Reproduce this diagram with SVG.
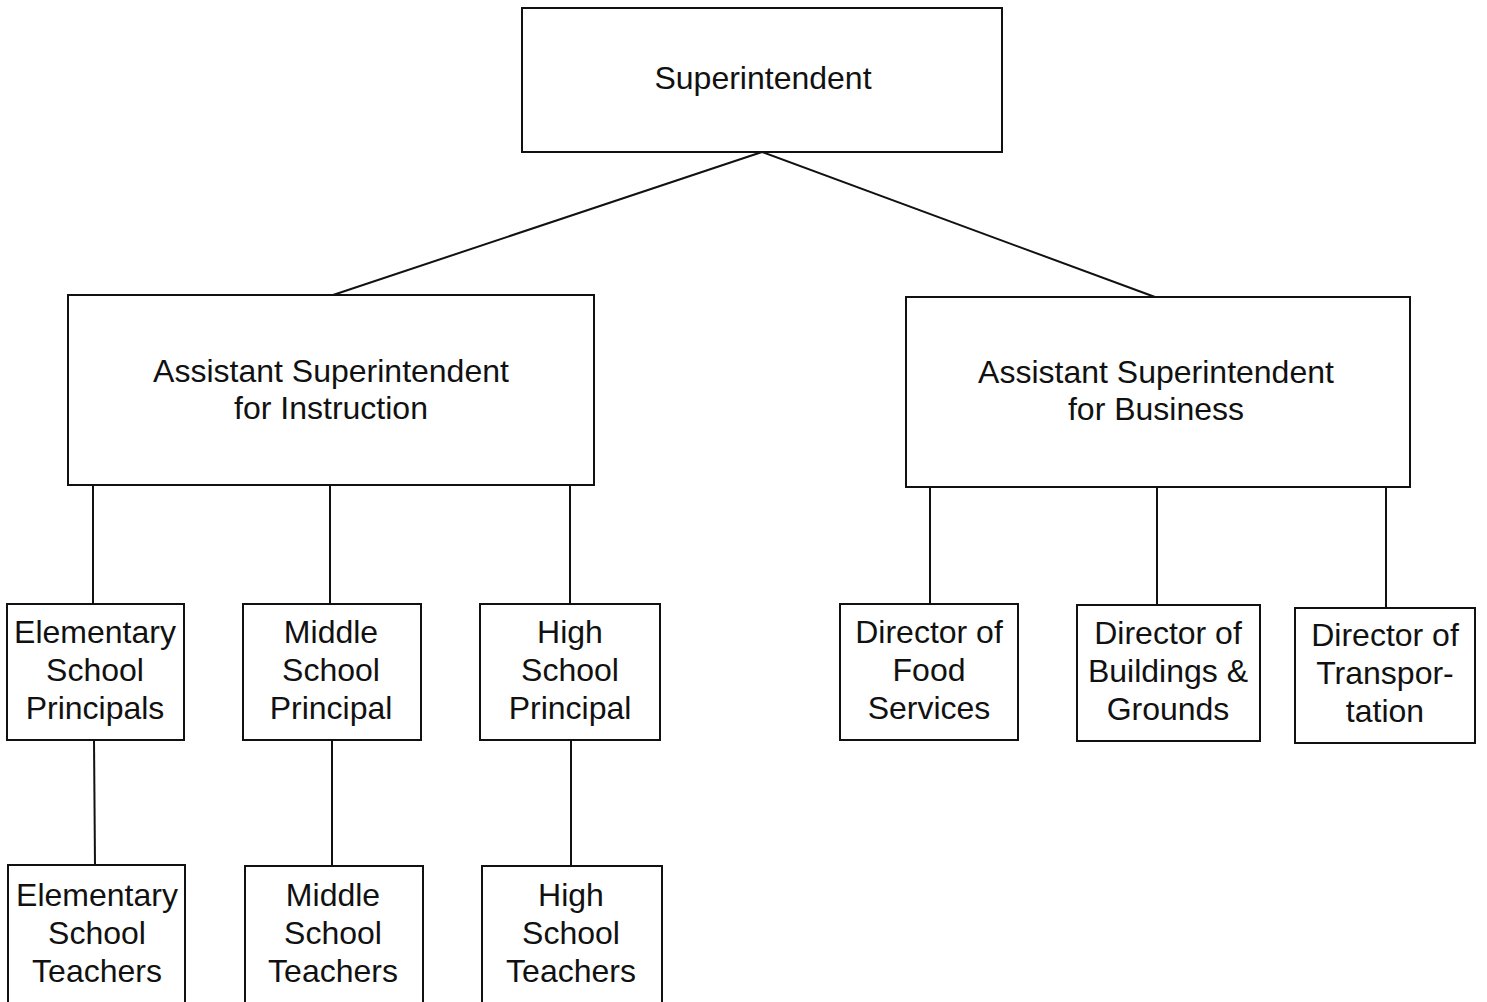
<svg xmlns="http://www.w3.org/2000/svg" width="1487" height="1002" viewBox="0 0 1487 1002">
<style>
.box{fill:#fff;stroke:#111;stroke-width:2}
.t{font-family:"Liberation Sans",Arial,sans-serif;font-size:32px;fill:#111;text-anchor:middle}
.c{stroke:#111;stroke-width:2;fill:none}
</style>
<rect width="1487" height="1002" fill="#fff"/>
<g id="connectors">
<line class="c" x1="762" y1="152" x2="333" y2="295"/>
<line class="c" x1="762" y1="152" x2="1155" y2="297"/>
<line class="c" x1="93" y1="485" x2="93" y2="604"/>
<line class="c" x1="330" y1="485" x2="330" y2="604"/>
<line class="c" x1="570" y1="485" x2="570" y2="604"/>
<line class="c" x1="930" y1="487" x2="930" y2="604"/>
<line class="c" x1="1157" y1="487" x2="1157" y2="605"/>
<line class="c" x1="1386" y1="487" x2="1386" y2="608"/>
<line class="c" x1="94" y1="740" x2="95" y2="865"/>
<line class="c" x1="332" y1="740" x2="332" y2="866"/>
<line class="c" x1="571" y1="740" x2="571" y2="866"/>
</g>
<g id="superintendent">
<rect class="box" x="522" y="8" width="480" height="144"/>
<text class="t" x="763" y="89">Superintendent</text>
</g>
<g id="asst-instruction">
<rect class="box" x="68" y="295" width="526" height="190"/>
<text class="t" x="331" y="382">Assistant Superintendent</text>
<text class="t" x="331" y="419">for Instruction</text>
</g>
<g id="asst-business">
<rect class="box" x="906" y="297" width="504" height="190"/>
<text class="t" x="1156" y="383">Assistant Superintendent</text>
<text class="t" x="1156" y="420">for Business</text>
</g>
<g id="elem-principals">
<rect class="box" x="7" y="604" width="177" height="136"/>
<text class="t" x="95" y="643">Elementary</text>
<text class="t" x="95" y="681">School</text>
<text class="t" x="95" y="719">Principals</text>
</g>
<g id="middle-principal">
<rect class="box" x="243" y="604" width="178" height="136"/>
<text class="t" x="331" y="643">Middle</text>
<text class="t" x="331" y="681">School</text>
<text class="t" x="331" y="719">Principal</text>
</g>
<g id="high-principal">
<rect class="box" x="480" y="604" width="180" height="136"/>
<text class="t" x="570" y="643">High</text>
<text class="t" x="570" y="681">School</text>
<text class="t" x="570" y="719">Principal</text>
</g>
<g id="elem-teachers">
<rect class="box" x="8" y="865" width="177" height="150"/>
<text class="t" x="97" y="906">Elementary</text>
<text class="t" x="97" y="944">School</text>
<text class="t" x="97" y="982">Teachers</text>
</g>
<g id="middle-teachers">
<rect class="box" x="245" y="866" width="178" height="150"/>
<text class="t" x="333" y="906">Middle</text>
<text class="t" x="333" y="944">School</text>
<text class="t" x="333" y="982">Teachers</text>
</g>
<g id="high-teachers">
<rect class="box" x="482" y="866" width="180" height="150"/>
<text class="t" x="571" y="906">High</text>
<text class="t" x="571" y="944">School</text>
<text class="t" x="571" y="982">Teachers</text>
</g>
<g id="food">
<rect class="box" x="840" y="604" width="178" height="136"/>
<text class="t" x="929" y="643">Director of</text>
<text class="t" x="929" y="681">Food</text>
<text class="t" x="929" y="719">Services</text>
</g>
<g id="buildings">
<rect class="box" x="1077" y="605" width="183" height="136"/>
<text class="t" x="1168" y="644">Director of</text>
<text class="t" x="1168" y="682">Buildings &amp;</text>
<text class="t" x="1168" y="720">Grounds</text>
</g>
<g id="transportation">
<rect class="box" x="1295" y="608" width="180" height="135"/>
<text class="t" x="1385" y="646">Director of</text>
<text class="t" x="1385" y="684">Transpor-</text>
<text class="t" x="1385" y="722">tation</text>
</g>
</svg>
